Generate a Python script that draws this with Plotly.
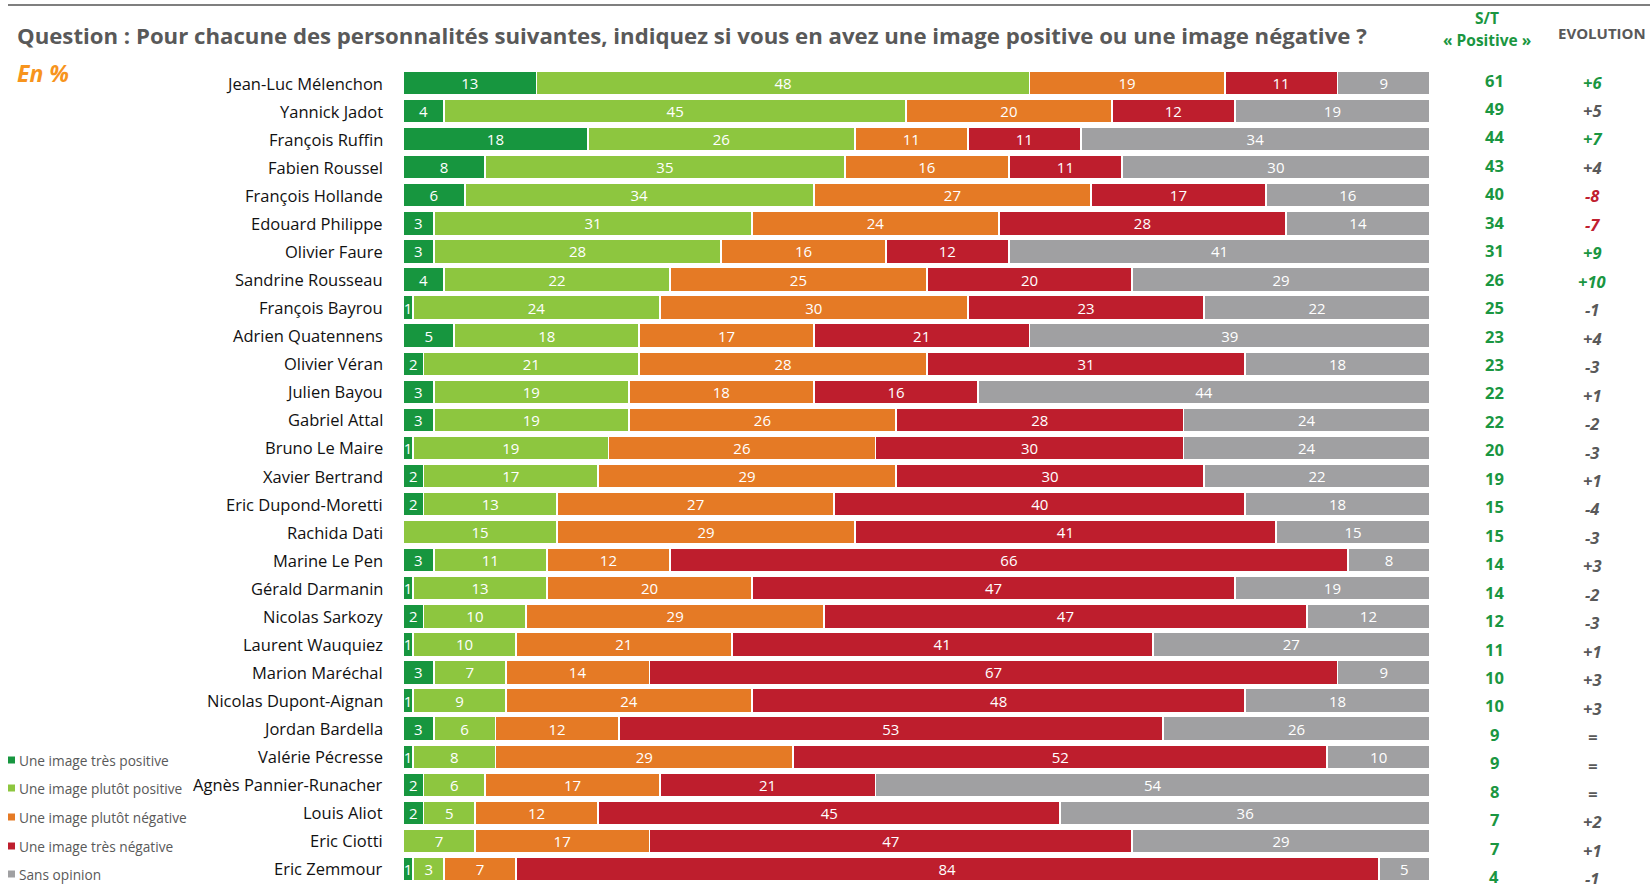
import plotly.graph_objects as go

names = ["Jean-Luc Mélenchon", "Yannick Jadot", "François Ruffin", "Fabien Roussel",
         "François Hollande", "Edouard Philippe", "Olivier Faure", "Sandrine Rousseau",
         "François Bayrou", "Adrien Quatennens", "Olivier Véran", "Julien Bayou",
         "Gabriel Attal", "Bruno Le Maire", "Xavier Bertrand", "Eric Dupond-Moretti",
         "Rachida Dati", "Marine Le Pen", "Gérald Darmanin", "Nicolas Sarkozy",
         "Laurent Wauquiez", "Marion Maréchal", "Nicolas Dupont-Aignan", "Jordan Bardella",
         "Valérie Pécresse", "Agnès Pannier-Runacher", "Louis Aliot", "Eric Ciotti",
         "Eric Zemmour"]

tres_positive = [13, 4, 18, 8, 6, 3, 3, 4, 1, 5, 2, 3, 3, 1, 2, 2, 0, 3, 1, 2, 1, 3, 1, 3, 1, 2, 2, 0, 1]
plutot_positive = [48, 45, 26, 35, 34, 31, 28, 22, 24, 18, 21, 19, 19, 19, 17, 13, 15, 11, 13, 10, 10, 7, 9, 6, 8, 6, 5, 7, 3]
plutot_negative = [19, 20, 11, 16, 27, 24, 16, 25, 30, 17, 28, 18, 26, 26, 29, 27, 29, 12, 20, 29, 21, 14, 24, 12, 29, 17, 12, 17, 7]
tres_negative = [11, 12, 11, 11, 17, 28, 12, 20, 23, 21, 31, 16, 28, 30, 30, 40, 41, 66, 47, 47, 41, 67, 48, 53, 52, 21, 45, 47, 84]
sans_opinion = [9, 19, 34, 30, 16, 14, 41, 29, 22, 39, 18, 44, 24, 24, 22, 18, 15, 8, 19, 12, 27, 9, 18, 26, 10, 54, 36, 29, 5]

st_positive = [61, 49, 44, 43, 40, 34, 31, 26, 25, 23, 23, 22, 22, 20, 19, 15, 15, 14, 14, 12, 11, 10, 10, 9, 9, 8, 7, 7, 4]
evolution = ["+6", "+5", "+7", "+4", "-8", "-7", "+9", "+10", "-1", "+4", "-3", "+1", "-2", "-3", "+1",
             "-4", "-3", "+3", "-2", "-3", "+1", "+3", "+3", "=", "=", "=", "+2", "+1", "-1"]
evolution_status = ["up", "flat", "up", "flat", "down", "down", "up", "up", "flat", "flat", "flat", "flat",
                    "flat", "flat", "flat", "flat", "flat", "flat", "flat", "flat", "flat", "flat", "flat",
                    "flat", "flat", "flat", "flat", "flat", "flat"]

series_names = ["Une image très positive", "Une image plutôt positive", "Une image plutôt négative",
                "Une image très négative", "Sans opinion"]
series_values = [tres_positive, plutot_positive, plutot_negative, tres_negative, sans_opinion]
series_colors = ["#17963F", "#8DC63F", "#E57A25", "#BE1E2D", "#A0A0A2"]

FONT = "Open Sans, Noto Sans, sans-serif"
W, H = 1650, 884
L, R, T, B = 403, 220, 69, 1
PW = W - L - R
PH = H - T - B


def px_x(px):
    return (px - L) / PW


def px_y(py):
    return (H - B - py) / PH


fig = go.Figure()
for nm, vals, col in zip(series_names, series_values, series_colors):
    fig.add_trace(go.Bar(
        y=names, x=vals, orientation="h", name=nm,
        marker=dict(color=col, line=dict(color="white", width=1.8)),
        text=[str(v) if v > 0 else "" for v in vals],
        textposition="inside", insidetextanchor="middle", textangle=0,
        textfont=dict(family=FONT, size=15, color="white"),
        hoverinfo="skip", showlegend=False,
    ))

ann = []
# category names
for nm in names:
    ann.append(dict(xref="paper", yref="y", x=0, y=nm, xanchor="right", yanchor="middle",
                    xshift=-18, text=nm, showarrow=False,
                    font=dict(family=FONT, size=16.5, color="#111111")))

# S/T and evolution columns
evo_colors = {"up": "#1A9641", "down": "#C0202F", "flat": "#595959"}
for i, nm in enumerate(names):
    ann.append(dict(xref="paper", yref="y", x=px_x(1494), y=nm, xanchor="center", yanchor="middle",
                    yshift=3 - 0.38 * i, text="<b>%d</b>" % st_positive[i], showarrow=False,
                    font=dict(family=FONT, size=16.5, color="#1A9641")))
    ann.append(dict(xref="paper", yref="y", x=px_x(1592), y=nm, xanchor="center", yanchor="middle",
                    yshift=1 - 0.39 * i, text="<b><i>%s</i></b>" % evolution[i], showarrow=False,
                    font=dict(family=FONT, size=16.5, color=evo_colors[evolution_status[i]])))

# headers
ann.append(dict(xref="paper", yref="paper", x=px_x(1487), y=px_y(18), xanchor="center", yanchor="middle",
                text="<b>S/T</b>", showarrow=False, font=dict(family=FONT, size=15.5, color="#1A9641")))
ann.append(dict(xref="paper", yref="paper", x=px_x(1487), y=px_y(40), xanchor="center", yanchor="middle",
                text="<b>« Positive »</b>", showarrow=False, font=dict(family=FONT, size=15.5, color="#1A9641")))
ann.append(dict(xref="paper", yref="paper", x=px_x(1602), y=px_y(33), xanchor="center", yanchor="middle",
                text="<b>EVOLUTION</b>", showarrow=False, font=dict(family=FONT, size=15, color="#595959")))

# title and subtitle
ann.append(dict(xref="paper", yref="paper", x=px_x(15), y=px_y(35), xanchor="left", yanchor="middle",
                text="<b>Question : Pour chacune des personnalités suivantes, indiquez si vous en avez une image positive ou une image négative ?</b>",
                showarrow=False, font=dict(family=FONT, size=22.2, color="#595959")))
ann.append(dict(xref="paper", yref="paper", x=px_x(15), y=px_y(73), xanchor="left", yanchor="middle",
                text="<b><i>En %</i></b>", showarrow=False, font=dict(family=FONT, size=23, color="#F7941D")))

# manual legend
shapes = []
leg_y = [760, 788, 817, 846, 874]
for nm, col, py in zip(series_names, series_colors, leg_y):
    shapes.append(dict(type="rect", xref="paper", yref="paper",
                       x0=px_x(8), x1=px_x(15), y0=px_y(py + 3.5), y1=px_y(py - 3.5),
                       fillcolor=col, line=dict(width=0)))
    ann.append(dict(xref="paper", yref="paper", x=px_x(17), y=px_y(py), xanchor="left", yanchor="middle",
                    text=nm, showarrow=False, font=dict(family=FONT, size=13.7, color="#595959")))

# top rule
shapes.append(dict(type="line", xref="paper", yref="paper", x0=px_x(8), x1=px_x(1650),
                   y0=px_y(5), y1=px_y(5), line=dict(color="#7F7F7F", width=2)))

fig.update_layout(
    width=W, height=H, barmode="stack", bargap=0.14,
    margin=dict(l=L, r=R, t=T, b=B, autoexpand=False),
    plot_bgcolor="white", paper_bgcolor="white",
    xaxis=dict(range=[0, 100], visible=False, fixedrange=True),
    yaxis=dict(categoryorder="array", categoryarray=names, range=[28.5, -0.5],
               showticklabels=False, showgrid=False, zeroline=False, fixedrange=True),
    uniformtext=dict(minsize=15, mode="show"),
    annotations=ann, shapes=shapes, showlegend=False,
)

fig.write_html("out.html", config={"displayModeBar": False},
               post_script="document.body.style.margin='0';document.body.style.overflow='hidden';")
